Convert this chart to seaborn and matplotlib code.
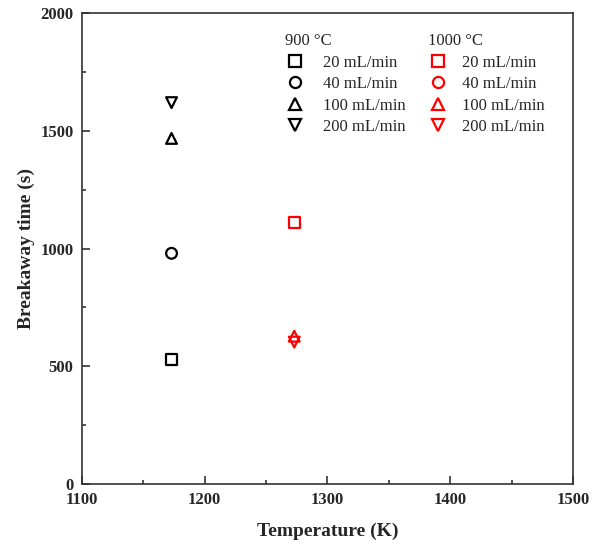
import seaborn as sns
import matplotlib.pyplot as plt
import matplotlib.lines as mlines
import numpy as np
import pandas as pd

sns.set_theme(style="ticks")
plt.rcParams["font.family"] = ["Liberation Serif", "DejaVu Serif"]

# data
temps_900 = [1173, 1173, 1173, 1173]
times_900 = [530, 980, 1468, 1620]
temps_1000 = [1273, 1273, 1273, 1273]
times_1000 = [1110, np.nan, 628, 603]
flow_labels = ["20 mL/min", "40 mL/min", "100 mL/min", "200 mL/min"]
markers = ["s", "o", "^", "v"]

fig = plt.figure(figsize=(5.98, 5.47), dpi=100)
ax = fig.add_axes([0.137, 0.115, 0.821, 0.861])

for temps, times, color in [(temps_900, times_900, "black"), (temps_1000, times_1000, "red")]:
    df = pd.DataFrame({"T": temps, "t": times, "flow": flow_labels})
    for flow, m in zip(flow_labels, markers):
        sub = df[df["flow"] == flow].dropna()
        if sub.empty:
            continue
        sns.scatterplot(ax=ax, data=sub, x="T", y="t", marker=m, s=60,
                        facecolors="none", edgecolors=color, linewidth=1.6, legend=False)

ax.set_xlim(1100, 1500)
ax.set_ylim(0, 2000)
ax.set_xticks([1100, 1200, 1300, 1400, 1500])
ax.set_yticks([0, 500, 1000, 1500, 2000])
ax.set_xticks([1150, 1250, 1350, 1450], minor=True)
ax.set_yticks([250, 750, 1250, 1750], minor=True)
ax.tick_params(which="both", direction="in", color="#333333", width=1.2)
ax.tick_params(which="major", length=6, labelsize=12, pad=6)
ax.tick_params(which="minor", length=3)
for lab in ax.get_xticklabels() + ax.get_yticklabels():
    lab.set_fontweight("bold")
for sp in ax.spines.values():
    sp.set_linewidth(1.2)
    sp.set_color("#333333")

ax.set_xlabel("Temperature (K)", fontsize=14, fontweight="bold", labelpad=10)
ax.set_ylabel("Breakaway time (s)", fontsize=14, fontweight="bold", labelpad=4)


def make_handles(color):
    return [mlines.Line2D([], [], linestyle="none", marker=m, markersize=8,
                          markerfacecolor="none", markeredgecolor=color, markeredgewidth=1.6)
            for m in markers]


leg_kw = dict(loc="upper left", frameon=False, fontsize=12, title_fontsize=12,
              handlelength=1.2, labelspacing=0.33, borderpad=0.2)
leg1 = ax.legend(make_handles("black"), flow_labels, title="900 °C",
                 bbox_to_anchor=(0.39, 0.982), handletextpad=1.05, **leg_kw)
leg1._legend_box.align = "left"
ax.add_artist(leg1)
leg2 = ax.legend(make_handles("red"), flow_labels, title="1000 °C",
                 bbox_to_anchor=(0.681, 0.982), handletextpad=0.85, **leg_kw)
leg2._legend_box.align = "left"

plt.savefig("out.png", dpi=100)
